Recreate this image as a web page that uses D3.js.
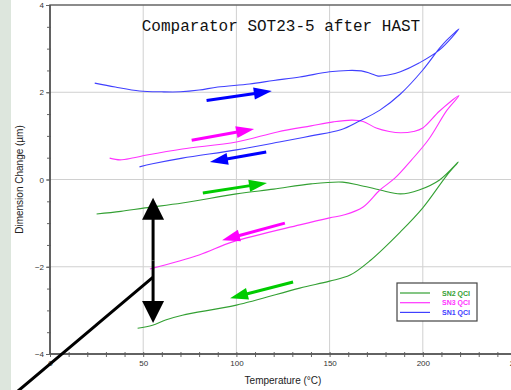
<!DOCTYPE html>
<html><head><meta charset="utf-8">
<script src="https://cdn.jsdelivr.net/npm/d3@7"></script>
<style>body{margin:0;background:#fff}svg{display:block}</style>
</head><body><svg id="c" width="511" height="390"></svg>
<script>
// ---- data ----
const title = "Comparator SOT23-5 after HAST";
const xLabel = "Temperature (°C)";
const yLabel = "Dimension Change (µm)";
const xTicks = [0, 50, 100, 150, 200, 250];
const yTicks = [-4, -2, 0, 2, 4];
const seriesNames = ["SN2 QCI", "SN3 QCI", "SN1 QCI"];
const seriesColors = ["#33a033", "#ff33ff", "#4040ff"];
const arrowColors = ["#00cc00", "#ff00ff", "#0000ff"];

// SN1 (blue)
const sn1 = [[24,2.21],[35,2.12],[48,2.03],[60,2.01],[70,2.01],[80,2.05],[90,2.12],[107,2.19],[120,2.27],[134,2.35],[150,2.47],[160,2.50],[167,2.49],[172,2.43],[176,2.37],[182,2.40],[188,2.47],[198,2.67],[209,2.97],[219.4,3.45],
  [213,3.2],[209,3.01],[200,2.51],[188,1.96],[177,1.59],[166,1.34],[156,1.14],[140,1.0],[123,0.86],[100,0.68],[71,0.49],[55,0.36],[48,0.29]];
// SN3 (magenta)
const sn3 = [[32,0.49],[37.6,0.45],[45,0.5],[52,0.56],[71,0.70],[100,0.86],[122,1.09],[140,1.23],[152,1.32],[162,1.36],[168,1.33],[175,1.18],[182,1.10],[188,1.07],[195,1.10],[200,1.18],[209,1.57],[219.4,1.92],
  [213,1.59],[203,0.91],[194,0.45],[185,0.03],[177,-0.24],[168,-0.63],[158,-0.81],[150,-0.88],[134,-1.04],[98,-1.43],[80,-1.73],[53.6,-2.05]];
// SN2 (green)
const sn2 = [[25,-0.79],[38,-0.73],[51,-0.65],[71,-0.54],[100,-0.33],[120,-0.22],[140,-0.10],[157,-0.06],[166,-0.13],[177,-0.24],[188,-0.33],[198,-0.24],[209,-0.01],[219,0.40],
  [213,0.10],[200,-0.65],[188,-1.20],[172,-1.85],[161,-2.19],[150,-2.33],[134,-2.49],[100,-2.88],[71,-3.11],[62,-3.22],[55,-3.34],[47,-3.41]];
const series = [sn2, sn3, sn1];

// direction arrows: [tailT, tailV, tipT, tipV, colorIndex]
const dirArrows = [
  [84,1.81,119,2.03,2],[116,0.63,85.8,0.40,2],
  [76,0.90,109.5,1.16,1],[126,-1.00,92.3,-1.39,1],
  [82,-0.31,116.4,-0.08,0],[130.4,-2.35,96.6,-2.72,0]
];
// black annotation: vertical double arrow and pointer line
const bigArrow = {T:55.3, top:-0.42, bottom:-3.29};
const pointer = [[55.3,-2.24],[-20,-4.95]];

// ---- drawing ----
const svg = d3.select("#c");
const x = d3.scaleLinear().domain([0,250]).range([50,516]);
const y = d3.scaleLinear().domain([-4,4]).range([354,5]);

svg.append("rect").attr("x",0).attr("y",0).attr("width",11).attr("height",390).attr("fill","#dde6dd");

// grid
const g = svg.append("g");
g.selectAll(".gx").data(xTicks.filter(d=>d>0&&d<250)).join("line")
  .attr("x1",d=>x(d)).attr("x2",d=>x(d)).attr("y1",y(4)).attr("y2",y(-4))
  .attr("stroke","#d0d0d0").attr("stroke-width",1);
g.selectAll(".gy").data(yTicks.filter(d=>d>-4&&d<4)).join("line")
  .attr("y1",d=>y(d)).attr("y2",d=>y(d)).attr("x1",x(0)).attr("x2",x(250))
  .attr("stroke","#d0d0d0").attr("stroke-width",1);

// frame
svg.append("rect").attr("x",x(0)).attr("y",y(4)).attr("width",x(250)-x(0)).attr("height",y(-4)-y(4))
  .attr("fill","none").attr("stroke","#666").attr("stroke-width",1.5);

// axes
const minorX = d3.range(0,251,10);
const minorY = d3.range(-4,4.01,0.5);
const ax = svg.append("g").attr("transform",`translate(0,${y(-4)})`)
  .call(d3.axisBottom(x).tickValues(minorX).tickSize(3).tickFormat(""));
ax.select(".domain").remove();
ax.selectAll("line").attr("stroke","#666").attr("y1",-2);
const ax2 = svg.append("g").attr("transform",`translate(0,${y(-4)})`)
  .call(d3.axisBottom(x).tickValues(xTicks).tickSize(0).tickPadding(6));
ax2.select(".domain").remove();
ax2.selectAll("text").attr("font-family","Liberation Sans, Arial").attr("font-size",8).attr("fill","#333");

const ay = svg.append("g").attr("transform",`translate(${x(0)},0)`)
  .call(d3.axisLeft(y).tickValues(minorY).tickSize(3).tickFormat(""));
ay.select(".domain").remove();
ay.selectAll("line").attr("stroke","#666").attr("x1",1);
const ay2 = svg.append("g").attr("transform",`translate(${x(0)},0)`)
  .call(d3.axisLeft(y).tickValues(yTicks).tickSize(4).tickPadding(2));
ay2.select(".domain").remove();
ay2.selectAll("line").attr("stroke","#666");
ay2.selectAll("text").attr("font-family","Liberation Sans, Arial").attr("font-size",8).attr("fill","#333");

svg.append("line").attr("x1",x(0)).attr("x2",x(0)).attr("y1",y(4)).attr("y2",y(-4)).attr("stroke","#555").attr("stroke-width",1.5);
svg.append("line").attr("x1",x(0)).attr("x2",x(250)).attr("y1",y(-4)).attr("y2",y(-4)).attr("stroke","#555").attr("stroke-width",1.5);

// labels
svg.append("text").attr("x",283).attr("y",384).attr("text-anchor","middle")
  .attr("font-family","Liberation Sans, Arial").attr("font-size",10).attr("fill","#222").text(xLabel);
svg.append("text").attr("transform",`translate(23,${y(0)}) rotate(-90)`).attr("text-anchor","middle")
  .attr("font-family","Liberation Sans, Arial").attr("font-size",10).attr("fill","#222").text(yLabel);
svg.append("text").attr("x",281).attr("y",31).attr("text-anchor","middle")
  .attr("font-family","Liberation Mono, DejaVu Sans Mono, monospace").attr("font-size",16).attr("fill","#111").text(title);

// curves
const line = d3.line().x(d=>x(d[0])).y(d=>y(d[1])).curve(d3.curveCatmullRom.alpha(0.5));
series.forEach((s,i)=>{
  svg.append("path").attr("d",line(s)).attr("fill","none").attr("stroke",seriesColors[i]).attr("stroke-width",1.1);
});

// arrow helper
function arrow(x1,y1,x2,y2,color,w,hl,hw){
  const dx=x2-x1, dy=y2-y1, L=Math.hypot(dx,dy), ux=dx/L, uy=dy/L;
  const bx=x2-ux*hl, by=y2-uy*hl;
  svg.append("line").attr("x1",x1).attr("y1",y1).attr("x2",bx+ux).attr("y2",by+uy)
    .attr("stroke",color).attr("stroke-width",w);
  svg.append("path").attr("d",`M${x2},${y2}L${bx-uy*hw/2},${by+ux*hw/2}L${bx+uy*hw/2},${by-ux*hw/2}Z`).attr("fill",color);
}
dirArrows.forEach(a=>arrow(x(a[0]),y(a[1]),x(a[2]),y(a[3]),arrowColors[a[4]],3,18,12));

// black annotation
svg.append("line").attr("x1",x(pointer[0][0])).attr("y1",y(pointer[0][1])).attr("x2",x(pointer[1][0])).attr("y2",y(pointer[1][1]))
  .attr("stroke","#000").attr("stroke-width",3);
const mid = (y(bigArrow.top)+y(bigArrow.bottom))/2;
arrow(x(bigArrow.T),mid,x(bigArrow.T),y(bigArrow.top),"#000",3,22,22);
arrow(x(bigArrow.T),mid,x(bigArrow.T),y(bigArrow.bottom),"#000",3,22,22);

// legend
const lg = svg.append("g");
lg.append("rect").attr("x",397).attr("y",283).attr("width",80).attr("height",38).attr("fill","#fff").attr("stroke","#444").attr("stroke-width",1.2);
seriesNames.forEach((n,i)=>{
  const yy = 293+i*9.7;
  lg.append("line").attr("x1",400).attr("x2",430).attr("y1",yy).attr("y2",yy).attr("stroke",seriesColors[i]).attr("stroke-width",1.2);
  lg.append("text").attr("x",470).attr("y",yy+2.5).attr("text-anchor","end").attr("font-family","Liberation Sans, Arial")
    .attr("font-size",7).attr("font-weight","bold").attr("fill",seriesColors[i]).text(n);
});
</script></body></html>
